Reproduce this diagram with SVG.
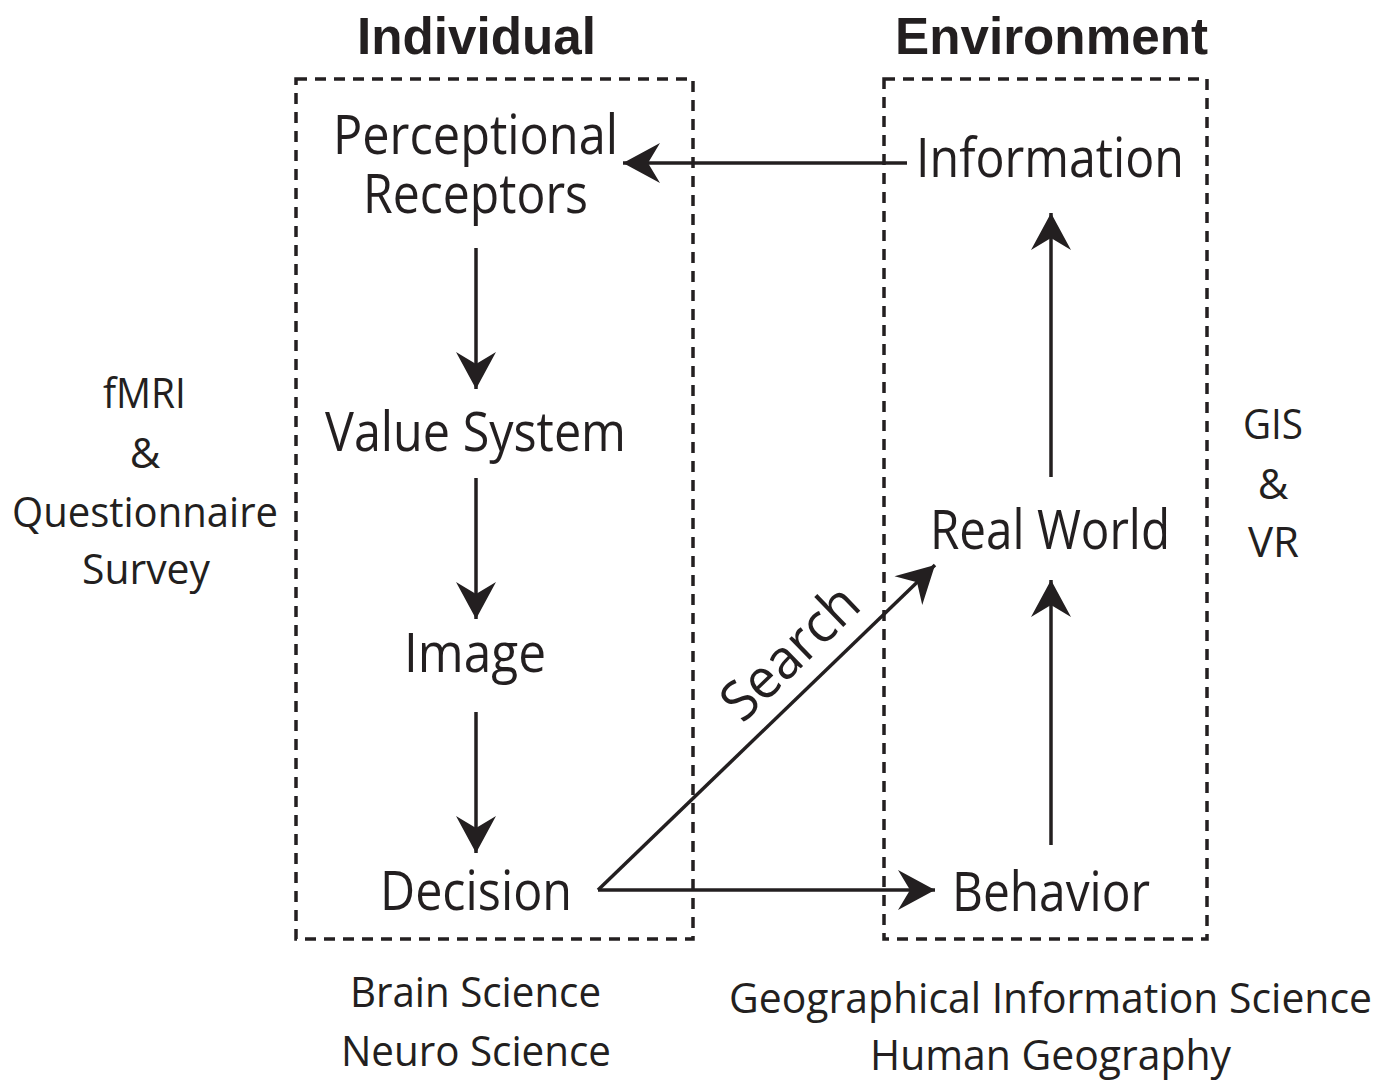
<svg xmlns="http://www.w3.org/2000/svg" width="1394" height="1083" viewBox="0 0 1394 1083">
  <defs>
    <marker id="arrowhead" markerUnits="userSpaceOnUse" markerWidth="40" markerHeight="44" viewBox="-38 -21 40 42" refX="0" refY="0" orient="auto">
      <path d="M0,0 L-37,-20 L-25,0 L-37,20 Z" fill="#231f20"/>
    </marker>
    <style>
      .frame { fill: none; stroke: #231f20; stroke-width: 3.5; stroke-dasharray: 11 8; }
      .link { fill: none; stroke: #231f20; stroke-width: 3.5; marker-end: url(#arrowhead); }
      .label { font-family: "Open Sans", "Noto Sans", sans-serif; fill: #231f20; font-size: 55px; }
      .side { font-family: "Open Sans", "Noto Sans", sans-serif; fill: #231f20; font-size: 42px; }
      .head { font-family: "Liberation Sans", Arial, sans-serif; font-weight: bold; fill: #231f20; font-size: 52px; }
    </style>
  </defs>
  <rect width="1394" height="1083" fill="#ffffff"/>

  <!-- column frames -->
  <g id="frame-individual">
    <rect class="frame" x="296" y="79" width="397" height="860"/>
    <text class="head" x="357" y="54" textLength="239" lengthAdjust="spacingAndGlyphs">Individual</text>
  </g>
  <g id="frame-environment">
    <rect class="frame" x="884" y="79" width="323" height="860"/>
    <text class="head" x="895" y="54" textLength="313" lengthAdjust="spacingAndGlyphs">Environment</text>
  </g>

  <!-- connectors -->
  <g id="connectors">
    <line class="link" x1="907" y1="163" x2="623" y2="163"/>
    <line class="link" x1="476" y1="248" x2="476" y2="389"/>
    <line class="link" x1="476" y1="478" x2="476" y2="619"/>
    <line class="link" x1="476" y1="712" x2="476" y2="853"/>
    <line class="link" x1="598" y1="890" x2="935" y2="890"/>
    <line class="link" x1="598" y1="890" x2="935" y2="565"/>
    <line class="link" x1="1051" y1="845" x2="1051" y2="580"/>
    <line class="link" x1="1051" y1="477" x2="1051" y2="213"/>
    <text class="label" font-size="50" x="0" y="0" text-anchor="middle" textLength="168" lengthAdjust="spacingAndGlyphs" transform="translate(803 666) rotate(-44)">Search</text>
  </g>

  <!-- nodes -->
  <g id="node-perceptional-receptors">
    <text class="label"><tspan x="333" y="154" textLength="285" lengthAdjust="spacingAndGlyphs">Perceptional</tspan><tspan x="363" y="213" textLength="225" lengthAdjust="spacingAndGlyphs">Receptors</tspan></text>
  </g>
  <g id="node-value-system">
    <text class="label" x="325" y="451" textLength="301" lengthAdjust="spacingAndGlyphs">Value System</text>
  </g>
  <g id="node-image">
    <text class="label" x="404" y="672" textLength="142" lengthAdjust="spacingAndGlyphs">Image</text>
  </g>
  <g id="node-decision">
    <text class="label" x="380" y="910" textLength="192" lengthAdjust="spacingAndGlyphs">Decision</text>
  </g>
  <g id="node-information">
    <text class="label" x="916" y="177" textLength="268" lengthAdjust="spacingAndGlyphs">Information</text>
  </g>
  <g id="node-real-world">
    <text class="label" x="930" y="549" textLength="240" lengthAdjust="spacingAndGlyphs">Real World</text>
  </g>
  <g id="node-behavior">
    <text class="label" x="952" y="911" textLength="198" lengthAdjust="spacingAndGlyphs">Behavior</text>
  </g>

  <!-- methods -->
  <g id="methods-individual">
    <text class="side" x="103" y="408" textLength="83" lengthAdjust="spacingAndGlyphs">fMRI</text>
    <text class="side" x="145" y="468" text-anchor="middle">&amp;</text>
    <text class="side" x="12" y="527" textLength="266" lengthAdjust="spacingAndGlyphs">Questionnaire</text>
    <text class="side" x="82" y="584" textLength="128" lengthAdjust="spacingAndGlyphs">Survey</text>
  </g>
  <g id="methods-environment">
    <text class="side" x="1243" y="439" textLength="60" lengthAdjust="spacingAndGlyphs">GIS</text>
    <text class="side" x="1273" y="499" text-anchor="middle">&amp;</text>
    <text class="side" x="1248" y="557" textLength="51" lengthAdjust="spacingAndGlyphs">VR</text>
  </g>

  <!-- disciplines -->
  <g id="fields-individual">
    <text class="side" x="350" y="1007" textLength="251" lengthAdjust="spacingAndGlyphs">Brain Science</text>
    <text class="side" x="341" y="1066" textLength="270" lengthAdjust="spacingAndGlyphs">Neuro Science</text>
  </g>
  <g id="fields-environment">
    <text class="side" x="729" y="1013" textLength="643" lengthAdjust="spacingAndGlyphs">Geographical Information Science</text>
    <text class="side" x="870" y="1070" textLength="361" lengthAdjust="spacingAndGlyphs">Human Geography</text>
  </g>
</svg>
